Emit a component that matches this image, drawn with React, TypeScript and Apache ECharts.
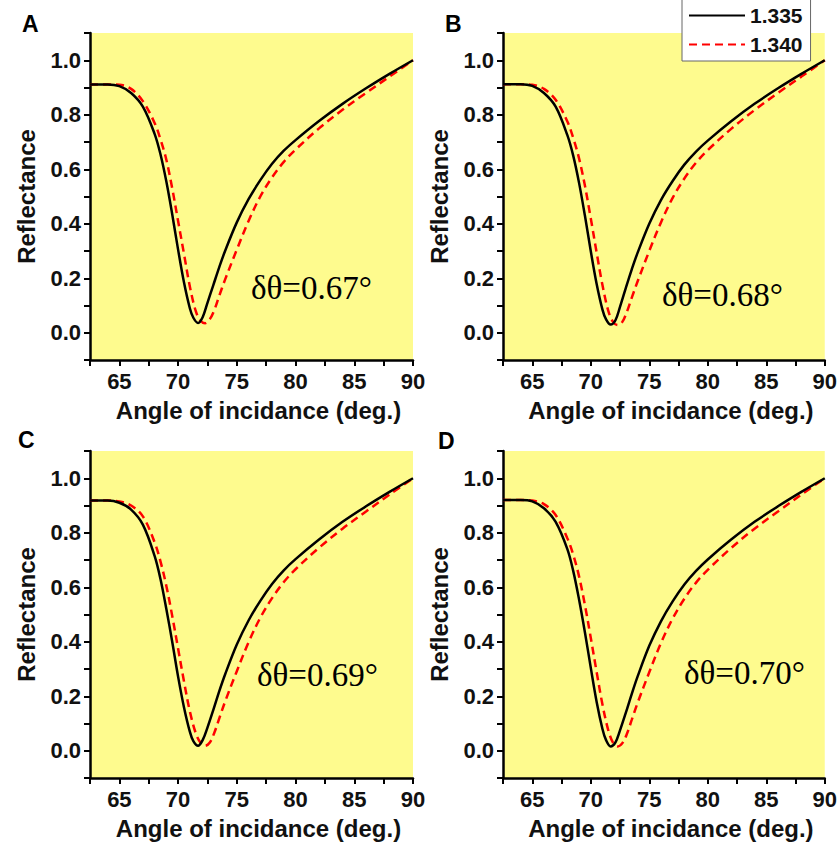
import React, { useEffect, useRef } from "react";
import * as echarts from "echarts";

// Angles (deg.) at which curves are sampled
const angleBlack = [62.5, 64, 65, 66, 67, 68, 68.5, 69, 69.5, 70, 70.5, 71, 71.3, 71.7, 72.1, 72.5, 73, 73.5, 74, 75, 76, 77, 78, 79, 80, 82, 84, 86, 88, 90];
const angleRed = [62.5, 64, 65, 66, 67, 68, 68.5, 69, 69.5, 70, 70.5, 71, 71.5, 71.9, 72.3, 72.7, 73.1, 73.5, 74, 75, 76, 77, 78, 79, 80, 82, 84, 86, 88, 90];

// Panel A
const blackA = [0.911, 0.911, 0.905, 0.88, 0.83, 0.73, 0.655, 0.555, 0.435, 0.305, 0.185, 0.09, 0.055, 0.036, 0.058, 0.11, 0.175, 0.24, 0.3, 0.405, 0.49, 0.56, 0.62, 0.668, 0.707, 0.777, 0.84, 0.897, 0.95, 1.0];
const redA = [0.911, 0.911, 0.91, 0.895, 0.85, 0.77, 0.71, 0.635, 0.53, 0.41, 0.29, 0.17, 0.08, 0.045, 0.035, 0.05, 0.085, 0.135, 0.195, 0.305, 0.41, 0.5, 0.57, 0.627, 0.672, 0.75, 0.818, 0.88, 0.94, 1.0];
// Panel B
const blackB = [0.912, 0.912, 0.906, 0.88, 0.83, 0.725, 0.65, 0.55, 0.43, 0.3, 0.18, 0.085, 0.05, 0.03, 0.045, 0.095, 0.165, 0.232, 0.293, 0.4, 0.487, 0.557, 0.617, 0.665, 0.705, 0.776, 0.84, 0.897, 0.95, 1.0];
const redB = [0.912, 0.912, 0.91, 0.895, 0.855, 0.775, 0.715, 0.64, 0.54, 0.42, 0.295, 0.175, 0.08, 0.04, 0.028, 0.04, 0.078, 0.128, 0.188, 0.3, 0.405, 0.495, 0.566, 0.624, 0.67, 0.748, 0.817, 0.88, 0.94, 1.0];
// Panel C
const blackC = [0.918, 0.918, 0.91, 0.885, 0.83, 0.715, 0.63, 0.52, 0.4, 0.272, 0.16, 0.07, 0.035, 0.018, 0.04, 0.085, 0.15, 0.218, 0.28, 0.39, 0.478, 0.55, 0.612, 0.662, 0.703, 0.775, 0.84, 0.897, 0.95, 1.0];
const redC = [0.918, 0.918, 0.915, 0.9, 0.86, 0.765, 0.695, 0.605, 0.495, 0.375, 0.255, 0.145, 0.065, 0.03, 0.018, 0.03, 0.068, 0.118, 0.18, 0.292, 0.398, 0.488, 0.56, 0.619, 0.666, 0.745, 0.815, 0.878, 0.94, 1.0];
// Panel D
const blackD = [0.92, 0.92, 0.915, 0.89, 0.84, 0.74, 0.66, 0.555, 0.435, 0.305, 0.18, 0.08, 0.04, 0.016, 0.03, 0.075, 0.14, 0.208, 0.272, 0.385, 0.475, 0.548, 0.61, 0.66, 0.702, 0.775, 0.84, 0.897, 0.95, 1.0];
const redD = [0.92, 0.92, 0.918, 0.905, 0.865, 0.78, 0.72, 0.64, 0.535, 0.415, 0.29, 0.17, 0.075, 0.03, 0.016, 0.028, 0.063, 0.113, 0.175, 0.288, 0.395, 0.485, 0.558, 0.617, 0.664, 0.744, 0.815, 0.878, 0.94, 1.0];

const panelLetters = ["A", "B", "C", "D"];
const shiftLabels = ["δθ=0.67°", "δθ=0.68°", "δθ=0.69°", "δθ=0.70°"];
const seriesNames = ["1.335", "1.340"];
const xTitle = "Angle of incidance (deg.)";
const yTitle = "Reflectance";

const blacks = [blackA, blackB, blackC, blackD];
const reds = [redA, redB, redC, redD];

const YELLOW = "#FEFB8E";
const grids = [
  { left: 90, top: 33, width: 323, height: 327 },
  { left: 503, top: 33, width: 324, height: 327 },
  { left: 90, top: 451, width: 323, height: 327 },
  { left: 503, top: 451, width: 324, height: 327 },
];
const letterPos = [
  [22, 24],
  [445, 24],
  [18, 440],
  [438, 441],
];
const notePos = [
  [251, 288],
  [662, 295],
  [257, 675],
  [684, 673],
];

const labelFont = {
  fontFamily: "'Liberation Sans', Arial, sans-serif",
  fontWeight: "bold" as const,
  fontSize: 22,
  color: "#111",
};

export default function App() {
  const ref = useRef<HTMLDivElement>(null);
  useEffect(() => {
    if (!ref.current) return;
    const chart = echarts.init(ref.current, undefined, { renderer: "svg" });

    const series: any[] = [];
    for (let i = 0; i < 4; i++) {
      series.push({
        name: seriesNames[0],
        type: "line",
        xAxisIndex: i,
        yAxisIndex: i,
        symbol: "none",
        smooth: 0.35,
        data: angleBlack.map((a, k) => [a, blacks[i][k]]),
        lineStyle: { color: "#000", width: 2.5, type: "solid" },
        itemStyle: { color: "#000" },
        z: 3,
      });
      series.push({
        name: seriesNames[1],
        type: "line",
        xAxisIndex: i,
        yAxisIndex: i,
        symbol: "none",
        smooth: 0.35,
        data: angleRed.map((a, k) => [a, reds[i][k]]),
        lineStyle: { color: "#FF0000", width: 2.5, type: [8, 5] },
        itemStyle: { color: "#FF0000" },
        z: 2,
      });
    }

    const graphic: any[] = [];
    for (let i = 0; i < 4; i++) {
      graphic.push({
        type: "text",
        x: letterPos[i][0],
        y: letterPos[i][1],
        style: {
          text: panelLetters[i],
          fontFamily: "'Liberation Sans', Arial, sans-serif",
          fontWeight: "bold",
          fontSize: 23,
          fill: "#000",
          verticalAlign: "middle",
        },
      });
      graphic.push({
        type: "text",
        x: notePos[i][0],
        y: notePos[i][1],
        z: 10,
        style: {
          text: shiftLabels[i],
          fontFamily: "'Liberation Serif', 'Times New Roman', serif",
          fontSize: 33,
          fill: "#000",
          verticalAlign: "middle",
        },
      });
    }

    chart.setOption({
      animation: false,
      backgroundColor: "#fff",
      grid: grids.map((g) => ({
        ...g,
        show: true,
        backgroundColor: YELLOW,
        borderWidth: 0,
        containLabel: false,
      })),
      legend: {
        data: seriesNames,
        orient: "vertical",
        left: 682,
        top: -1,
        itemWidth: 56,
        itemHeight: 14,
        itemGap: 8,
        padding: [6, 8, 6, 6],
        backgroundColor: "#fff",
        borderColor: "#666",
        borderWidth: 1,
        itemStyle: { opacity: 0 },
        textStyle: { ...labelFont, fontSize: 21 },
      },
      xAxis: grids.map((_, i) => ({
        type: "value",
        gridIndex: i,
        min: 62.5,
        max: 90,
        interval: 2.5,
        name: xTitle,
        nameLocation: "middle",
        nameGap: 38,
        nameTextStyle: { ...labelFont, fontSize: 24, color: "#111", padding: [0, 0, 0, 14] },
        axisLine: { show: true, onZero: false, lineStyle: { color: "#000", width: 2.5 } },
        axisTick: { show: true, inside: false, length: 6, lineStyle: { color: "#000", width: 2 } },
        axisLabel: {
          ...labelFont,
          margin: 10,
          formatter: (v: number) => (Math.round(v * 10) % 50 === 0 ? String(Math.round(v)) : ""),
        },
        splitLine: { show: false },
      })),
      yAxis: grids.map((_, i) => ({
        type: "value",
        gridIndex: i,
        min: -0.1,
        max: 1.1,
        interval: 0.1,
        name: yTitle,
        nameLocation: "middle",
        nameGap: 52,
        nameRotate: 90,
        nameTextStyle: { ...labelFont, fontSize: 24, color: "#111" },
        axisLine: { show: true, onZero: false, lineStyle: { color: "#000", width: 2.5 } },
        axisTick: { show: true, inside: false, length: 6, lineStyle: { color: "#000", width: 2 } },
        axisLabel: {
          ...labelFont,
          margin: 9,
          formatter: (v: number) => {
            const t = Math.round(v * 10);
            return t >= 0 && t <= 10 && t % 2 === 0 ? (t / 10).toFixed(1) : "";
          },
        },
        splitLine: { show: false },
      })),
      series,
      graphic,
    });
    return () => chart.dispose();
  }, []);
  return (
    <div
      ref={ref}
      style={{ position: "absolute", left: 0, top: 0, width: 840, height: 850 }}
    />
  );
}
